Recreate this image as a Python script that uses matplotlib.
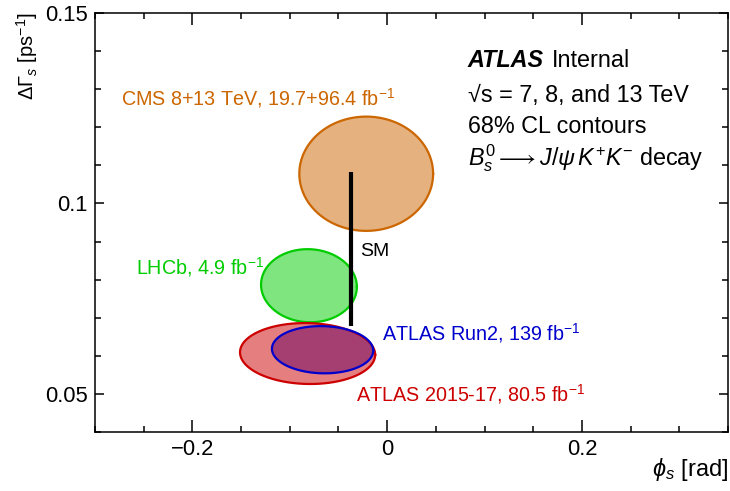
import numpy as np
import matplotlib
matplotlib.use("Agg")
import matplotlib.pyplot as plt
from matplotlib.ticker import MultipleLocator

plt.rcParams["font.family"] = ["Liberation Sans", "DejaVu Sans"]
plt.rcParams["mathtext.fontset"] = "custom"
plt.rcParams["mathtext.rm"] = "Liberation Sans"
plt.rcParams["mathtext.it"] = "Liberation Sans:italic"
plt.rcParams["mathtext.bf"] = "Liberation Sans:bold"

# 68% CL contours: centre, half-extent along each axis and correlation
experiments = ["CMS", "LHCb", "ATLAS Run2", "ATLAS 2015-17"]
phi_s_center = [-0.0215, -0.0803, -0.0663, -0.0817]
dgamma_center = [0.1078, 0.0784, 0.0616, 0.0606]
phi_s_halfwidth = [0.0687, 0.0492, 0.0520, 0.0694]
dgamma_halfwidth = [0.0150, 0.0096, 0.0062, 0.0080]
correlation = [0.0, -0.03, -0.04, -0.04]
edge_colors = ["#CC6600", "#00CC00", "#0000CC", "#CC0000"]
labels = [
    "CMS 8+13 TeV, 19.7+96.4 fb$^{-1}$",
    "LHCb, 4.9 fb$^{-1}$",
    "ATLAS Run2, 139 fb$^{-1}$",
    "ATLAS 2015-17, 80.5 fb$^{-1}$",
]
label_pos = [(0.041, 0.797), (0.065, 0.3945), (0.453, 0.236), (0.412, 0.0907)]
label_size = [14.2, 14.2, 14.2, 14.2]

# Standard Model prediction
sm_phi_s = -0.0369
sm_dgamma = [0.0678, 0.1083]

fig = plt.figure(figsize=(7.30, 4.91), dpi=100)
ax = fig.add_axes([95 / 730, 59 / 491, 633 / 730, 419 / 491])

t = np.linspace(0, 2 * np.pi, 400)


def contour(i):
    x = phi_s_center[i] + phi_s_halfwidth[i] * np.cos(t)
    r = correlation[i]
    y = dgamma_center[i] + dgamma_halfwidth[i] * (r * np.cos(t) + np.sqrt(1 - r * r) * np.sin(t))
    return x, y


# CMS and LHCb
for i in (0, 1):
    x, y = contour(i)
    ax.fill(x, y, color=edge_colors[i], alpha=0.5, lw=0, zorder=2)
    ax.plot(x, y, color=edge_colors[i], lw=1.6, zorder=3)

# ATLAS: Run2 fill underneath, 2015-17 on top, Run2 outline last
xb, yb = contour(2)
xr, yr = contour(3)
ax.fill(xb, yb, color=edge_colors[2], alpha=0.5, lw=0, zorder=2)
ax.fill(xr, yr, color=edge_colors[3], alpha=0.5, lw=0, zorder=2.1)
ax.plot(xr, yr, color=edge_colors[3], lw=1.6, zorder=3)
ax.plot(xb, yb, color=edge_colors[2], lw=1.6, zorder=3.1)

ax.plot([sm_phi_s, sm_phi_s], sm_dgamma, color="black", lw=3, solid_capstyle="butt", zorder=4)
ax.text(0.4186, 0.4296, "SM", transform=ax.transAxes, fontsize=14, va="center", ha="left")

for lab, (px, py), c, fs in zip(labels, label_pos, edge_colors, label_size):
    ax.text(px, py, lab, transform=ax.transAxes, color=c, fontsize=fs, va="center", ha="left")

big = 16.8
t_atlas = ax.text(0.589, 0.886, "ATLAS", transform=ax.transAxes, fontsize=big, va="center",
                  fontweight="bold", fontstyle="italic")
ax.annotate("Internal", xy=(1, 0), xycoords=t_atlas, xytext=(6, 0), textcoords="offset points",
            fontsize=big, va="bottom", ha="left")
ax.text(0.589, 0.804, "\u221as = 7, 8, and 13 TeV", transform=ax.transAxes, fontsize=big, va="center")
ax.text(0.589, 0.728, "68% CL contours", transform=ax.transAxes, fontsize=big, va="center")
ax.text(0.589, 0.654, r"$B_s^0 \longrightarrow J/\psi\, K^{+}K^{-}$ decay", transform=ax.transAxes,
        fontsize=big, va="center")

ax.set_xlim(-0.3, 0.35)
ax.set_ylim(0.04, 0.15)
ax.xaxis.set_major_locator(MultipleLocator(0.2))
ax.xaxis.set_minor_locator(MultipleLocator(0.05))
ax.yaxis.set_major_locator(MultipleLocator(0.05))
ax.yaxis.set_minor_locator(MultipleLocator(0.01))
ax.set_xticks([-0.2, 0, 0.2])
ax.set_xticklabels(["\u22120.2", "0", "0.2"])
ax.set_yticks([0.05, 0.1, 0.15])
ax.set_yticklabels(["0.05", "0.1", "0.15"])
ax.tick_params(which="both", direction="in", top=True, right=True, labelsize=15.8, width=1.1)
ax.tick_params(axis="x", which="major", length=8.6, pad=5)
ax.tick_params(axis="x", which="minor", length=4.3)
ax.tick_params(axis="y", which="major", length=6.7, pad=5)
ax.tick_params(axis="y", which="minor", length=4.3)
for s in ax.spines.values():
    s.set_linewidth(1.1)

ax.text(1.0, -0.09, r"$\phi_s$ [rad]", transform=ax.transAxes, fontsize=17, ha="right", va="center")
ax.text(-0.107, 1.002, r"$\Delta\Gamma_s$ [ps$^{-1}$]", transform=ax.transAxes, fontsize=14.5,
        rotation=90, ha="center", va="top")

fig.savefig("out.png", dpi=100)
